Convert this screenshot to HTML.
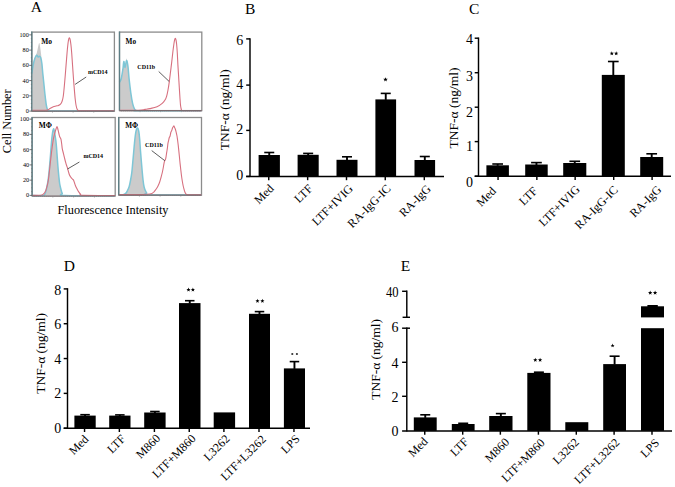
<!DOCTYPE html>
<html><head><meta charset="utf-8"><title>Figure</title>
<style>
html,body{margin:0;padding:0;background:#fff;}
body{width:675px;height:487px;overflow:hidden;}
svg{display:block;}
text{font-family:"Liberation Serif",serif;fill:#000;}
</style></head><body>
<svg width="675" height="487" viewBox="0 0 675 487">
<rect width="675" height="487" fill="#fff"/>
<text x="30.70" y="12.00" font-size="15.5" text-anchor="start" >A</text>
<text x="244.90" y="14.40" font-size="15.5" text-anchor="start" >B</text>
<text x="468.90" y="14.40" font-size="15.5" text-anchor="start" >C</text>
<text x="63.80" y="270.50" font-size="15.5" text-anchor="start" >D</text>
<text x="400.70" y="270.50" font-size="15.5" text-anchor="start" >E</text>
<rect x="31.8" y="32.1" width="82.60000000000001" height="79.0" fill="#fff" stroke="#8c8c8c" stroke-width="1.3"/>
<path d="M31.80,72.00 C32.08,70.33 32.88,64.58 33.50,62.00 C34.12,59.42 34.92,58.17 35.50,56.50 C36.08,54.83 36.53,53.75 37.00,52.00 C37.47,50.25 37.92,47.50 38.30,46.00 C38.68,44.50 38.97,42.67 39.30,43.00 C39.63,43.33 39.93,45.50 40.30,48.00 C40.67,50.50 41.08,54.00 41.50,58.00 C41.92,62.00 42.38,67.33 42.80,72.00 C43.22,76.67 43.58,81.50 44.00,86.00 C44.42,90.50 44.92,95.58 45.30,99.00 C45.68,102.42 45.93,104.57 46.30,106.50 C46.67,108.43 47.30,109.92 47.50,110.60 L47.5,111.1 L31.8,111.1 Z" fill="#cbcbcb" stroke="none"/>
<path d="M31.80,73.60 C32.00,72.33 32.50,68.52 33.00,66.00 C33.50,63.48 34.18,60.28 34.80,58.50 C35.42,56.72 36.17,55.55 36.70,55.30 C37.23,55.05 37.57,56.83 38.00,57.00 C38.43,57.17 38.87,56.22 39.30,56.30 C39.73,56.38 40.18,56.38 40.60,57.50 C41.02,58.62 41.43,60.32 41.80,63.00 C42.17,65.68 42.47,70.27 42.80,73.60 C43.13,76.93 43.50,80.10 43.80,83.00 C44.10,85.90 44.32,88.33 44.60,91.00 C44.88,93.67 45.22,96.67 45.50,99.00 C45.78,101.33 46.02,103.37 46.30,105.00 C46.58,106.63 46.87,107.87 47.20,108.80 C47.53,109.73 47.83,110.23 48.30,110.60 C48.77,110.97 48.05,110.93 50.00,111.00 C51.95,111.07 49.33,111.00 60.00,111.00 C70.67,111.00 105.00,111.00 114.00,111.00 L114.0,111.1 L31.8,111.1 Z" fill="#cbcbcb" stroke="none"/>
<path d="M31.80,73.60 C32.00,72.33 32.50,68.52 33.00,66.00 C33.50,63.48 34.18,60.28 34.80,58.50 C35.42,56.72 36.17,55.55 36.70,55.30 C37.23,55.05 37.57,56.83 38.00,57.00 C38.43,57.17 38.87,56.22 39.30,56.30 C39.73,56.38 40.18,56.38 40.60,57.50 C41.02,58.62 41.43,60.32 41.80,63.00 C42.17,65.68 42.47,70.27 42.80,73.60 C43.13,76.93 43.50,80.10 43.80,83.00 C44.10,85.90 44.32,88.33 44.60,91.00 C44.88,93.67 45.22,96.67 45.50,99.00 C45.78,101.33 46.02,103.37 46.30,105.00 C46.58,106.63 46.87,107.87 47.20,108.80 C47.53,109.73 47.83,110.23 48.30,110.60 C48.77,110.97 48.05,110.93 50.00,111.00 C51.95,111.07 49.33,111.00 60.00,111.00 C70.67,111.00 105.00,111.00 114.00,111.00" fill="none" stroke="#7ec6d6" stroke-width="1.5" stroke-linejoin="round"/>
<path d="M31.80,110.30 C33.17,110.30 37.43,110.33 40.00,110.30 C42.57,110.27 45.53,110.40 47.20,110.10 C48.87,109.80 48.98,109.07 50.00,108.50 C51.02,107.93 52.30,107.12 53.30,106.70 C54.30,106.28 55.13,106.22 56.00,106.00 C56.87,105.78 57.75,105.70 58.50,105.40 C59.25,105.10 59.92,104.85 60.50,104.20 C61.08,103.55 61.53,102.87 62.00,101.50 C62.47,100.13 62.87,99.08 63.30,96.00 C63.73,92.92 64.22,87.17 64.60,83.00 C64.98,78.83 65.27,75.08 65.60,71.00 C65.93,66.92 66.27,62.50 66.60,58.50 C66.93,54.50 67.28,50.08 67.60,47.00 C67.92,43.92 68.22,41.53 68.50,40.00 C68.78,38.47 69.03,37.88 69.30,37.80 C69.57,37.72 69.83,38.38 70.10,39.50 C70.37,40.62 70.63,42.25 70.90,44.50 C71.17,46.75 71.42,49.42 71.70,53.00 C71.98,56.58 72.30,61.67 72.60,66.00 C72.90,70.33 73.22,75.17 73.50,79.00 C73.78,82.83 74.02,85.67 74.30,89.00 C74.58,92.33 74.90,96.25 75.20,99.00 C75.50,101.75 75.77,103.78 76.10,105.50 C76.43,107.22 76.80,108.45 77.20,109.30 C77.60,110.15 77.37,110.35 78.50,110.60 C79.63,110.85 78.08,110.77 84.00,110.80 C89.92,110.83 109.00,110.80 114.00,110.80" fill="none" stroke="#d7707f" stroke-width="1.1" stroke-linejoin="round"/>
<line x1="31.80" y1="31.50" x2="31.80" y2="111.10" stroke="#5d7f86" stroke-width="1.3"/>
<line x1="31.80" y1="111.10" x2="114.40" y2="111.10" stroke="#7a6a6e" stroke-width="1.2"/>
<line x1="33.87" y1="111.10" x2="33.87" y2="112.00" stroke="#777" stroke-width="0.5"/>
<line x1="35.93" y1="111.10" x2="35.93" y2="112.00" stroke="#777" stroke-width="0.5"/>
<line x1="38.00" y1="111.10" x2="38.00" y2="112.00" stroke="#777" stroke-width="0.5"/>
<line x1="40.06" y1="111.10" x2="40.06" y2="112.00" stroke="#777" stroke-width="0.5"/>
<line x1="42.12" y1="111.10" x2="42.12" y2="112.00" stroke="#777" stroke-width="0.5"/>
<line x1="44.19" y1="111.10" x2="44.19" y2="112.00" stroke="#777" stroke-width="0.5"/>
<line x1="46.26" y1="111.10" x2="46.26" y2="112.00" stroke="#777" stroke-width="0.5"/>
<line x1="48.32" y1="111.10" x2="48.32" y2="112.00" stroke="#777" stroke-width="0.5"/>
<line x1="50.39" y1="111.10" x2="50.39" y2="112.00" stroke="#777" stroke-width="0.5"/>
<line x1="52.45" y1="111.10" x2="52.45" y2="112.70" stroke="#777" stroke-width="0.5"/>
<line x1="54.52" y1="111.10" x2="54.52" y2="112.00" stroke="#777" stroke-width="0.5"/>
<line x1="56.58" y1="111.10" x2="56.58" y2="112.00" stroke="#777" stroke-width="0.5"/>
<line x1="58.65" y1="111.10" x2="58.65" y2="112.00" stroke="#777" stroke-width="0.5"/>
<line x1="60.71" y1="111.10" x2="60.71" y2="112.00" stroke="#777" stroke-width="0.5"/>
<line x1="62.78" y1="111.10" x2="62.78" y2="112.00" stroke="#777" stroke-width="0.5"/>
<line x1="64.84" y1="111.10" x2="64.84" y2="112.00" stroke="#777" stroke-width="0.5"/>
<line x1="66.91" y1="111.10" x2="66.91" y2="112.00" stroke="#777" stroke-width="0.5"/>
<line x1="68.97" y1="111.10" x2="68.97" y2="112.00" stroke="#777" stroke-width="0.5"/>
<line x1="71.03" y1="111.10" x2="71.03" y2="112.00" stroke="#777" stroke-width="0.5"/>
<line x1="73.10" y1="111.10" x2="73.10" y2="112.70" stroke="#777" stroke-width="0.5"/>
<line x1="75.17" y1="111.10" x2="75.17" y2="112.00" stroke="#777" stroke-width="0.5"/>
<line x1="77.23" y1="111.10" x2="77.23" y2="112.00" stroke="#777" stroke-width="0.5"/>
<line x1="79.30" y1="111.10" x2="79.30" y2="112.00" stroke="#777" stroke-width="0.5"/>
<line x1="81.36" y1="111.10" x2="81.36" y2="112.00" stroke="#777" stroke-width="0.5"/>
<line x1="83.42" y1="111.10" x2="83.42" y2="112.00" stroke="#777" stroke-width="0.5"/>
<line x1="85.49" y1="111.10" x2="85.49" y2="112.00" stroke="#777" stroke-width="0.5"/>
<line x1="87.56" y1="111.10" x2="87.56" y2="112.00" stroke="#777" stroke-width="0.5"/>
<line x1="89.62" y1="111.10" x2="89.62" y2="112.00" stroke="#777" stroke-width="0.5"/>
<line x1="91.69" y1="111.10" x2="91.69" y2="112.00" stroke="#777" stroke-width="0.5"/>
<line x1="93.75" y1="111.10" x2="93.75" y2="112.70" stroke="#777" stroke-width="0.5"/>
<line x1="95.82" y1="111.10" x2="95.82" y2="112.00" stroke="#777" stroke-width="0.5"/>
<line x1="97.88" y1="111.10" x2="97.88" y2="112.00" stroke="#777" stroke-width="0.5"/>
<line x1="99.95" y1="111.10" x2="99.95" y2="112.00" stroke="#777" stroke-width="0.5"/>
<line x1="102.01" y1="111.10" x2="102.01" y2="112.00" stroke="#777" stroke-width="0.5"/>
<line x1="104.08" y1="111.10" x2="104.08" y2="112.00" stroke="#777" stroke-width="0.5"/>
<line x1="106.14" y1="111.10" x2="106.14" y2="112.00" stroke="#777" stroke-width="0.5"/>
<line x1="108.20" y1="111.10" x2="108.20" y2="112.00" stroke="#777" stroke-width="0.5"/>
<line x1="110.27" y1="111.10" x2="110.27" y2="112.00" stroke="#777" stroke-width="0.5"/>
<line x1="112.34" y1="111.10" x2="112.34" y2="112.00" stroke="#777" stroke-width="0.5"/>
<line x1="29.20" y1="111.10" x2="31.80" y2="111.10" stroke="#555" stroke-width="0.8"/>
<text x="28.80" y="113.10" font-size="6.2" text-anchor="end" fill="#444">0</text>
<line x1="29.20" y1="95.85" x2="31.80" y2="95.85" stroke="#555" stroke-width="0.8"/>
<text x="28.80" y="97.85" font-size="6.2" text-anchor="end" fill="#444">20</text>
<line x1="29.20" y1="80.60" x2="31.80" y2="80.60" stroke="#555" stroke-width="0.8"/>
<text x="28.80" y="82.60" font-size="6.2" text-anchor="end" fill="#444">40</text>
<line x1="29.20" y1="65.35" x2="31.80" y2="65.35" stroke="#555" stroke-width="0.8"/>
<text x="28.80" y="67.35" font-size="6.2" text-anchor="end" fill="#444">60</text>
<line x1="29.20" y1="50.10" x2="31.80" y2="50.10" stroke="#555" stroke-width="0.8"/>
<text x="28.80" y="52.10" font-size="6.2" text-anchor="end" fill="#444">80</text>
<line x1="29.20" y1="34.85" x2="31.80" y2="34.85" stroke="#555" stroke-width="0.8"/>
<text x="28.80" y="36.85" font-size="6.2" text-anchor="end" fill="#444">100</text>
<line x1="30.80" y1="107.29" x2="31.80" y2="107.29" stroke="#666" stroke-width="0.5"/>
<line x1="30.80" y1="103.47" x2="31.80" y2="103.47" stroke="#666" stroke-width="0.5"/>
<line x1="30.80" y1="99.66" x2="31.80" y2="99.66" stroke="#666" stroke-width="0.5"/>
<line x1="30.80" y1="92.04" x2="31.80" y2="92.04" stroke="#666" stroke-width="0.5"/>
<line x1="30.80" y1="88.22" x2="31.80" y2="88.22" stroke="#666" stroke-width="0.5"/>
<line x1="30.80" y1="84.41" x2="31.80" y2="84.41" stroke="#666" stroke-width="0.5"/>
<line x1="30.80" y1="76.79" x2="31.80" y2="76.79" stroke="#666" stroke-width="0.5"/>
<line x1="30.80" y1="72.97" x2="31.80" y2="72.97" stroke="#666" stroke-width="0.5"/>
<line x1="30.80" y1="69.16" x2="31.80" y2="69.16" stroke="#666" stroke-width="0.5"/>
<line x1="30.80" y1="61.54" x2="31.80" y2="61.54" stroke="#666" stroke-width="0.5"/>
<line x1="30.80" y1="57.72" x2="31.80" y2="57.72" stroke="#666" stroke-width="0.5"/>
<line x1="30.80" y1="53.91" x2="31.80" y2="53.91" stroke="#666" stroke-width="0.5"/>
<line x1="30.80" y1="46.29" x2="31.80" y2="46.29" stroke="#666" stroke-width="0.5"/>
<line x1="30.80" y1="42.47" x2="31.80" y2="42.47" stroke="#666" stroke-width="0.5"/>
<line x1="30.80" y1="38.66" x2="31.80" y2="38.66" stroke="#666" stroke-width="0.5"/>
<text x="41.20" y="43.80" font-size="8.4" text-anchor="start" textLength="10.8" lengthAdjust="spacingAndGlyphs" font-weight="bold">Mo</text>
<text x="87.90" y="73.90" font-size="6.0" text-anchor="start" font-weight="bold">mCD14</text>
<line x1="86.20" y1="77.00" x2="75.10" y2="84.40" stroke="#333" stroke-width="0.8"/>
<rect x="119.5" y="32.1" width="82.30000000000001" height="78.5" fill="#fff" stroke="#8c8c8c" stroke-width="1.3"/>
<path d="M119.50,82.30 C119.78,81.72 120.62,81.12 121.20,78.80 C121.78,76.48 122.57,71.30 123.00,68.40 C123.43,65.50 123.45,61.63 123.80,61.40 C124.15,61.17 124.68,67.23 125.10,67.00 C125.52,66.77 126.03,61.42 126.30,60.00 C126.57,58.58 126.55,58.33 126.70,58.50 C126.85,58.67 127.00,59.78 127.20,61.00 C127.40,62.22 127.58,62.83 127.90,65.80 C128.22,68.77 128.62,74.30 129.10,78.80 C129.58,83.30 130.22,88.72 130.80,92.80 C131.38,96.88 132.02,100.68 132.60,103.30 C133.18,105.92 133.82,107.32 134.30,108.50 C134.78,109.68 135.30,110.08 135.50,110.40 L135.5,110.6 L119.5,110.6 Z" fill="#cbcbcb" stroke="none"/>
<path d="M119.50,82.30 C119.78,81.72 120.62,81.12 121.20,78.80 C121.78,76.48 122.57,71.30 123.00,68.40 C123.43,65.50 123.45,61.55 123.80,61.40 C124.15,61.25 124.65,67.65 125.10,67.50 C125.55,67.35 126.03,60.78 126.50,60.50 C126.97,60.22 127.47,62.75 127.90,65.80 C128.33,68.85 128.62,74.30 129.10,78.80 C129.58,83.30 130.22,88.72 130.80,92.80 C131.38,96.88 132.02,100.68 132.60,103.30 C133.18,105.92 133.77,107.33 134.30,108.50 C134.83,109.67 134.85,109.93 135.80,110.30 C136.75,110.67 129.05,110.63 140.00,110.70 C150.95,110.77 191.25,110.70 201.50,110.70 L201.5,110.6 L119.5,110.6 Z" fill="#cbcbcb" stroke="none"/>
<path d="M119.50,82.30 C119.78,81.72 120.62,81.12 121.20,78.80 C121.78,76.48 122.57,71.30 123.00,68.40 C123.43,65.50 123.45,61.55 123.80,61.40 C124.15,61.25 124.65,67.65 125.10,67.50 C125.55,67.35 126.03,60.78 126.50,60.50 C126.97,60.22 127.47,62.75 127.90,65.80 C128.33,68.85 128.62,74.30 129.10,78.80 C129.58,83.30 130.22,88.72 130.80,92.80 C131.38,96.88 132.02,100.68 132.60,103.30 C133.18,105.92 133.77,107.33 134.30,108.50 C134.83,109.67 134.85,109.93 135.80,110.30 C136.75,110.67 129.05,110.63 140.00,110.70 C150.95,110.77 191.25,110.70 201.50,110.70" fill="none" stroke="#7ec6d6" stroke-width="1.5" stroke-linejoin="round"/>
<path d="M119.50,110.20 C122.70,110.20 134.45,110.33 138.70,110.20 C142.95,110.07 143.12,109.67 145.00,109.40 C146.88,109.13 148.00,109.05 150.00,108.60 C152.00,108.15 154.97,107.58 157.00,106.70 C159.03,105.82 160.87,104.42 162.20,103.30 C163.53,102.18 164.27,101.17 165.00,100.00 C165.73,98.83 166.10,97.97 166.60,96.30 C167.10,94.63 167.57,92.33 168.00,90.00 C168.43,87.67 168.78,85.30 169.20,82.30 C169.62,79.30 170.07,75.48 170.50,72.00 C170.93,68.52 171.40,64.82 171.80,61.40 C172.20,57.98 172.55,54.40 172.90,51.50 C173.25,48.60 173.62,45.95 173.90,44.00 C174.18,42.05 174.37,40.73 174.60,39.80 C174.83,38.87 175.07,38.37 175.30,38.40 C175.53,38.43 175.78,39.07 176.00,40.00 C176.22,40.93 176.38,41.83 176.60,44.00 C176.82,46.17 177.08,49.52 177.30,53.00 C177.52,56.48 177.68,61.07 177.90,64.90 C178.12,68.73 178.37,72.22 178.60,76.00 C178.83,79.78 179.08,84.10 179.30,87.60 C179.52,91.10 179.70,94.10 179.90,97.00 C180.10,99.90 180.28,103.00 180.50,105.00 C180.72,107.00 180.95,108.10 181.20,109.00 C181.45,109.90 181.20,110.13 182.00,110.40 C182.80,110.67 182.75,110.57 186.00,110.60 C189.25,110.63 198.92,110.60 201.50,110.60" fill="none" stroke="#d7707f" stroke-width="1.1" stroke-linejoin="round"/>
<line x1="119.50" y1="31.50" x2="119.50" y2="110.60" stroke="#5d7f86" stroke-width="1.3"/>
<line x1="119.50" y1="110.60" x2="201.80" y2="110.60" stroke="#7a6a6e" stroke-width="1.2"/>
<line x1="121.56" y1="110.60" x2="121.56" y2="111.50" stroke="#777" stroke-width="0.5"/>
<line x1="123.61" y1="110.60" x2="123.61" y2="111.50" stroke="#777" stroke-width="0.5"/>
<line x1="125.67" y1="110.60" x2="125.67" y2="111.50" stroke="#777" stroke-width="0.5"/>
<line x1="127.73" y1="110.60" x2="127.73" y2="111.50" stroke="#777" stroke-width="0.5"/>
<line x1="129.79" y1="110.60" x2="129.79" y2="111.50" stroke="#777" stroke-width="0.5"/>
<line x1="131.84" y1="110.60" x2="131.84" y2="111.50" stroke="#777" stroke-width="0.5"/>
<line x1="133.90" y1="110.60" x2="133.90" y2="111.50" stroke="#777" stroke-width="0.5"/>
<line x1="135.96" y1="110.60" x2="135.96" y2="111.50" stroke="#777" stroke-width="0.5"/>
<line x1="138.02" y1="110.60" x2="138.02" y2="111.50" stroke="#777" stroke-width="0.5"/>
<line x1="140.07" y1="110.60" x2="140.07" y2="112.20" stroke="#777" stroke-width="0.5"/>
<line x1="142.13" y1="110.60" x2="142.13" y2="111.50" stroke="#777" stroke-width="0.5"/>
<line x1="144.19" y1="110.60" x2="144.19" y2="111.50" stroke="#777" stroke-width="0.5"/>
<line x1="146.25" y1="110.60" x2="146.25" y2="111.50" stroke="#777" stroke-width="0.5"/>
<line x1="148.31" y1="110.60" x2="148.31" y2="111.50" stroke="#777" stroke-width="0.5"/>
<line x1="150.36" y1="110.60" x2="150.36" y2="111.50" stroke="#777" stroke-width="0.5"/>
<line x1="152.42" y1="110.60" x2="152.42" y2="111.50" stroke="#777" stroke-width="0.5"/>
<line x1="154.48" y1="110.60" x2="154.48" y2="111.50" stroke="#777" stroke-width="0.5"/>
<line x1="156.53" y1="110.60" x2="156.53" y2="111.50" stroke="#777" stroke-width="0.5"/>
<line x1="158.59" y1="110.60" x2="158.59" y2="111.50" stroke="#777" stroke-width="0.5"/>
<line x1="160.65" y1="110.60" x2="160.65" y2="112.20" stroke="#777" stroke-width="0.5"/>
<line x1="162.71" y1="110.60" x2="162.71" y2="111.50" stroke="#777" stroke-width="0.5"/>
<line x1="164.77" y1="110.60" x2="164.77" y2="111.50" stroke="#777" stroke-width="0.5"/>
<line x1="166.82" y1="110.60" x2="166.82" y2="111.50" stroke="#777" stroke-width="0.5"/>
<line x1="168.88" y1="110.60" x2="168.88" y2="111.50" stroke="#777" stroke-width="0.5"/>
<line x1="170.94" y1="110.60" x2="170.94" y2="111.50" stroke="#777" stroke-width="0.5"/>
<line x1="173.00" y1="110.60" x2="173.00" y2="111.50" stroke="#777" stroke-width="0.5"/>
<line x1="175.05" y1="110.60" x2="175.05" y2="111.50" stroke="#777" stroke-width="0.5"/>
<line x1="177.11" y1="110.60" x2="177.11" y2="111.50" stroke="#777" stroke-width="0.5"/>
<line x1="179.17" y1="110.60" x2="179.17" y2="111.50" stroke="#777" stroke-width="0.5"/>
<line x1="181.23" y1="110.60" x2="181.23" y2="112.20" stroke="#777" stroke-width="0.5"/>
<line x1="183.28" y1="110.60" x2="183.28" y2="111.50" stroke="#777" stroke-width="0.5"/>
<line x1="185.34" y1="110.60" x2="185.34" y2="111.50" stroke="#777" stroke-width="0.5"/>
<line x1="187.40" y1="110.60" x2="187.40" y2="111.50" stroke="#777" stroke-width="0.5"/>
<line x1="189.46" y1="110.60" x2="189.46" y2="111.50" stroke="#777" stroke-width="0.5"/>
<line x1="191.51" y1="110.60" x2="191.51" y2="111.50" stroke="#777" stroke-width="0.5"/>
<line x1="193.57" y1="110.60" x2="193.57" y2="111.50" stroke="#777" stroke-width="0.5"/>
<line x1="195.63" y1="110.60" x2="195.63" y2="111.50" stroke="#777" stroke-width="0.5"/>
<line x1="197.69" y1="110.60" x2="197.69" y2="111.50" stroke="#777" stroke-width="0.5"/>
<line x1="199.74" y1="110.60" x2="199.74" y2="111.50" stroke="#777" stroke-width="0.5"/>
<text x="125.60" y="43.90" font-size="8.4" text-anchor="start" textLength="10.5" lengthAdjust="spacingAndGlyphs" font-weight="bold">Mo</text>
<text x="137.30" y="69.20" font-size="6.0" text-anchor="start" font-weight="bold">CD11b</text>
<line x1="158.70" y1="71.50" x2="169.20" y2="81.50" stroke="#333" stroke-width="0.8"/>
<rect x="32.1" y="117.5" width="83.1" height="78.5" fill="#fff" stroke="#8c8c8c" stroke-width="1.3"/>
<path d="M44.80,195.30 C45.03,194.42 45.77,191.92 46.20,190.00 C46.63,188.08 47.02,186.13 47.40,183.80 C47.78,181.47 48.15,178.92 48.50,176.00 C48.85,173.08 49.18,169.80 49.50,166.30 C49.82,162.80 50.10,158.77 50.40,155.00 C50.70,151.23 50.98,147.12 51.30,143.70 C51.62,140.28 51.98,136.83 52.30,134.50 C52.62,132.17 52.92,129.95 53.20,129.70 C53.48,129.45 53.72,131.25 54.00,133.00 C54.28,134.75 54.63,137.70 54.90,140.20 C55.17,142.70 55.38,145.10 55.60,148.00 C55.82,150.90 55.98,154.10 56.20,157.60 C56.42,161.10 56.67,165.22 56.90,169.00 C57.13,172.78 57.35,177.38 57.60,180.30 C57.85,183.22 58.12,184.77 58.40,186.50 C58.68,188.23 58.98,189.53 59.30,190.70 C59.62,191.87 59.95,192.73 60.30,193.50 C60.65,194.27 61.22,195.00 61.40,195.30 L61.4,196.0 L44.8,196.0 Z" fill="#cbcbcb" stroke="none"/>
<path d="M32.10,195.60 C33.75,195.60 39.93,195.73 42.00,195.60 C44.07,195.47 43.83,195.57 44.50,194.80 C45.17,194.03 45.52,192.72 46.00,191.00 C46.48,189.28 46.98,186.83 47.40,184.50 C47.82,182.17 48.15,179.92 48.50,177.00 C48.85,174.08 49.17,170.67 49.50,167.00 C49.83,163.33 50.17,159.17 50.50,155.00 C50.83,150.83 51.17,145.67 51.50,142.00 C51.83,138.33 52.17,135.20 52.50,133.00 C52.83,130.80 53.17,128.97 53.50,128.80 C53.83,128.63 54.20,130.63 54.50,132.00 C54.80,133.37 55.02,135.05 55.30,137.00 C55.58,138.95 55.92,140.87 56.20,143.70 C56.48,146.53 56.72,150.23 57.00,154.00 C57.28,157.77 57.60,162.63 57.90,166.30 C58.20,169.97 58.50,173.08 58.80,176.00 C59.10,178.92 59.33,181.55 59.70,183.80 C60.07,186.05 60.57,187.90 61.00,189.50 C61.43,191.10 61.65,192.38 62.30,193.40 C62.95,194.42 56.12,195.22 64.90,195.60 C73.68,195.98 106.65,195.68 115.00,195.70 L115.0,196.0 L32.1,196.0 Z" fill="#cbcbcb" stroke="none"/>
<path d="M32.10,195.60 C33.75,195.60 39.93,195.73 42.00,195.60 C44.07,195.47 43.83,195.57 44.50,194.80 C45.17,194.03 45.52,192.72 46.00,191.00 C46.48,189.28 46.98,186.83 47.40,184.50 C47.82,182.17 48.15,179.92 48.50,177.00 C48.85,174.08 49.17,170.67 49.50,167.00 C49.83,163.33 50.17,159.17 50.50,155.00 C50.83,150.83 51.17,145.67 51.50,142.00 C51.83,138.33 52.17,135.20 52.50,133.00 C52.83,130.80 53.17,128.97 53.50,128.80 C53.83,128.63 54.20,130.63 54.50,132.00 C54.80,133.37 55.02,135.05 55.30,137.00 C55.58,138.95 55.92,140.87 56.20,143.70 C56.48,146.53 56.72,150.23 57.00,154.00 C57.28,157.77 57.60,162.63 57.90,166.30 C58.20,169.97 58.50,173.08 58.80,176.00 C59.10,178.92 59.33,181.55 59.70,183.80 C60.07,186.05 60.57,187.90 61.00,189.50 C61.43,191.10 61.65,192.38 62.30,193.40 C62.95,194.42 56.12,195.22 64.90,195.60 C73.68,195.98 106.65,195.68 115.00,195.70" fill="none" stroke="#7ec6d6" stroke-width="1.5" stroke-linejoin="round"/>
<path d="M32.10,195.40 C33.50,195.38 38.60,195.53 40.50,195.30 C42.40,195.07 42.63,194.77 43.50,194.00 C44.37,193.23 45.12,191.95 45.70,190.70 C46.28,189.45 46.57,188.23 47.00,186.50 C47.43,184.77 47.87,183.13 48.30,180.30 C48.73,177.47 49.17,173.28 49.60,169.50 C50.03,165.72 50.47,161.35 50.90,157.60 C51.33,153.85 51.77,150.20 52.20,147.00 C52.63,143.80 53.12,140.57 53.50,138.40 C53.88,136.23 54.20,135.17 54.50,134.00 C54.80,132.83 55.02,132.32 55.30,131.40 C55.58,130.48 55.92,129.30 56.20,128.50 C56.48,127.70 56.75,126.60 57.00,126.60 C57.25,126.60 57.47,127.70 57.70,128.50 C57.93,129.30 58.17,130.40 58.40,131.40 C58.63,132.40 58.88,133.62 59.10,134.50 C59.32,135.38 59.48,136.12 59.70,136.70 C59.92,137.28 60.18,137.57 60.40,138.00 C60.62,138.43 60.78,138.30 61.00,139.30 C61.22,140.30 61.48,142.40 61.70,144.00 C61.92,145.60 62.05,147.48 62.30,148.90 C62.55,150.32 62.92,151.33 63.20,152.50 C63.48,153.67 63.72,154.73 64.00,155.90 C64.28,157.07 64.60,158.35 64.90,159.50 C65.20,160.65 65.52,161.80 65.80,162.80 C66.08,163.80 66.32,164.62 66.60,165.50 C66.88,166.38 67.20,167.10 67.50,168.10 C67.80,169.10 68.12,170.48 68.40,171.50 C68.68,172.52 68.85,173.32 69.20,174.20 C69.55,175.08 70.05,176.08 70.50,176.80 C70.95,177.52 71.52,178.08 71.90,178.50 C72.28,178.92 72.52,179.00 72.80,179.30 C73.08,179.60 73.32,179.72 73.60,180.30 C73.88,180.88 74.20,181.93 74.50,182.80 C74.80,183.67 75.03,184.58 75.40,185.50 C75.77,186.42 76.27,187.43 76.70,188.30 C77.13,189.17 77.57,189.97 78.00,190.70 C78.43,191.43 78.87,192.12 79.30,192.70 C79.73,193.28 79.95,193.75 80.60,194.20 C81.25,194.65 77.47,195.18 83.20,195.40 C88.93,195.62 109.70,195.48 115.00,195.50" fill="none" stroke="#d7707f" stroke-width="1.1" stroke-linejoin="round"/>
<line x1="32.10" y1="116.90" x2="32.10" y2="196.00" stroke="#5d7f86" stroke-width="1.3"/>
<line x1="32.10" y1="196.00" x2="115.20" y2="196.00" stroke="#7a6a6e" stroke-width="1.2"/>
<line x1="34.18" y1="196.00" x2="34.18" y2="196.90" stroke="#777" stroke-width="0.5"/>
<line x1="36.26" y1="196.00" x2="36.26" y2="196.90" stroke="#777" stroke-width="0.5"/>
<line x1="38.33" y1="196.00" x2="38.33" y2="196.90" stroke="#777" stroke-width="0.5"/>
<line x1="40.41" y1="196.00" x2="40.41" y2="196.90" stroke="#777" stroke-width="0.5"/>
<line x1="42.49" y1="196.00" x2="42.49" y2="196.90" stroke="#777" stroke-width="0.5"/>
<line x1="44.56" y1="196.00" x2="44.56" y2="196.90" stroke="#777" stroke-width="0.5"/>
<line x1="46.64" y1="196.00" x2="46.64" y2="196.90" stroke="#777" stroke-width="0.5"/>
<line x1="48.72" y1="196.00" x2="48.72" y2="196.90" stroke="#777" stroke-width="0.5"/>
<line x1="50.80" y1="196.00" x2="50.80" y2="196.90" stroke="#777" stroke-width="0.5"/>
<line x1="52.88" y1="196.00" x2="52.88" y2="197.60" stroke="#777" stroke-width="0.5"/>
<line x1="54.95" y1="196.00" x2="54.95" y2="196.90" stroke="#777" stroke-width="0.5"/>
<line x1="57.03" y1="196.00" x2="57.03" y2="196.90" stroke="#777" stroke-width="0.5"/>
<line x1="59.11" y1="196.00" x2="59.11" y2="196.90" stroke="#777" stroke-width="0.5"/>
<line x1="61.19" y1="196.00" x2="61.19" y2="196.90" stroke="#777" stroke-width="0.5"/>
<line x1="63.26" y1="196.00" x2="63.26" y2="196.90" stroke="#777" stroke-width="0.5"/>
<line x1="65.34" y1="196.00" x2="65.34" y2="196.90" stroke="#777" stroke-width="0.5"/>
<line x1="67.42" y1="196.00" x2="67.42" y2="196.90" stroke="#777" stroke-width="0.5"/>
<line x1="69.50" y1="196.00" x2="69.50" y2="196.90" stroke="#777" stroke-width="0.5"/>
<line x1="71.57" y1="196.00" x2="71.57" y2="196.90" stroke="#777" stroke-width="0.5"/>
<line x1="73.65" y1="196.00" x2="73.65" y2="197.60" stroke="#777" stroke-width="0.5"/>
<line x1="75.73" y1="196.00" x2="75.73" y2="196.90" stroke="#777" stroke-width="0.5"/>
<line x1="77.81" y1="196.00" x2="77.81" y2="196.90" stroke="#777" stroke-width="0.5"/>
<line x1="79.88" y1="196.00" x2="79.88" y2="196.90" stroke="#777" stroke-width="0.5"/>
<line x1="81.96" y1="196.00" x2="81.96" y2="196.90" stroke="#777" stroke-width="0.5"/>
<line x1="84.04" y1="196.00" x2="84.04" y2="196.90" stroke="#777" stroke-width="0.5"/>
<line x1="86.12" y1="196.00" x2="86.12" y2="196.90" stroke="#777" stroke-width="0.5"/>
<line x1="88.19" y1="196.00" x2="88.19" y2="196.90" stroke="#777" stroke-width="0.5"/>
<line x1="90.27" y1="196.00" x2="90.27" y2="196.90" stroke="#777" stroke-width="0.5"/>
<line x1="92.35" y1="196.00" x2="92.35" y2="196.90" stroke="#777" stroke-width="0.5"/>
<line x1="94.43" y1="196.00" x2="94.43" y2="197.60" stroke="#777" stroke-width="0.5"/>
<line x1="96.50" y1="196.00" x2="96.50" y2="196.90" stroke="#777" stroke-width="0.5"/>
<line x1="98.58" y1="196.00" x2="98.58" y2="196.90" stroke="#777" stroke-width="0.5"/>
<line x1="100.66" y1="196.00" x2="100.66" y2="196.90" stroke="#777" stroke-width="0.5"/>
<line x1="102.73" y1="196.00" x2="102.73" y2="196.90" stroke="#777" stroke-width="0.5"/>
<line x1="104.81" y1="196.00" x2="104.81" y2="196.90" stroke="#777" stroke-width="0.5"/>
<line x1="106.89" y1="196.00" x2="106.89" y2="196.90" stroke="#777" stroke-width="0.5"/>
<line x1="108.97" y1="196.00" x2="108.97" y2="196.90" stroke="#777" stroke-width="0.5"/>
<line x1="111.04" y1="196.00" x2="111.04" y2="196.90" stroke="#777" stroke-width="0.5"/>
<line x1="113.12" y1="196.00" x2="113.12" y2="196.90" stroke="#777" stroke-width="0.5"/>
<line x1="29.50" y1="195.40" x2="32.10" y2="195.40" stroke="#555" stroke-width="0.8"/>
<text x="29.10" y="197.40" font-size="6.2" text-anchor="end" fill="#444">0</text>
<line x1="29.50" y1="180.15" x2="32.10" y2="180.15" stroke="#555" stroke-width="0.8"/>
<text x="29.10" y="182.15" font-size="6.2" text-anchor="end" fill="#444">20</text>
<line x1="29.50" y1="164.90" x2="32.10" y2="164.90" stroke="#555" stroke-width="0.8"/>
<text x="29.10" y="166.90" font-size="6.2" text-anchor="end" fill="#444">40</text>
<line x1="29.50" y1="149.65" x2="32.10" y2="149.65" stroke="#555" stroke-width="0.8"/>
<text x="29.10" y="151.65" font-size="6.2" text-anchor="end" fill="#444">60</text>
<line x1="29.50" y1="134.40" x2="32.10" y2="134.40" stroke="#555" stroke-width="0.8"/>
<text x="29.10" y="136.40" font-size="6.2" text-anchor="end" fill="#444">80</text>
<line x1="29.50" y1="119.15" x2="32.10" y2="119.15" stroke="#555" stroke-width="0.8"/>
<text x="29.10" y="121.15" font-size="6.2" text-anchor="end" fill="#444">100</text>
<line x1="31.10" y1="191.59" x2="32.10" y2="191.59" stroke="#666" stroke-width="0.5"/>
<line x1="31.10" y1="187.78" x2="32.10" y2="187.78" stroke="#666" stroke-width="0.5"/>
<line x1="31.10" y1="183.96" x2="32.10" y2="183.96" stroke="#666" stroke-width="0.5"/>
<line x1="31.10" y1="176.34" x2="32.10" y2="176.34" stroke="#666" stroke-width="0.5"/>
<line x1="31.10" y1="172.53" x2="32.10" y2="172.53" stroke="#666" stroke-width="0.5"/>
<line x1="31.10" y1="168.71" x2="32.10" y2="168.71" stroke="#666" stroke-width="0.5"/>
<line x1="31.10" y1="161.09" x2="32.10" y2="161.09" stroke="#666" stroke-width="0.5"/>
<line x1="31.10" y1="157.28" x2="32.10" y2="157.28" stroke="#666" stroke-width="0.5"/>
<line x1="31.10" y1="153.46" x2="32.10" y2="153.46" stroke="#666" stroke-width="0.5"/>
<line x1="31.10" y1="145.84" x2="32.10" y2="145.84" stroke="#666" stroke-width="0.5"/>
<line x1="31.10" y1="142.03" x2="32.10" y2="142.03" stroke="#666" stroke-width="0.5"/>
<line x1="31.10" y1="138.21" x2="32.10" y2="138.21" stroke="#666" stroke-width="0.5"/>
<line x1="31.10" y1="130.59" x2="32.10" y2="130.59" stroke="#666" stroke-width="0.5"/>
<line x1="31.10" y1="126.78" x2="32.10" y2="126.78" stroke="#666" stroke-width="0.5"/>
<line x1="31.10" y1="122.96" x2="32.10" y2="122.96" stroke="#666" stroke-width="0.5"/>
<text x="38.70" y="127.80" font-size="8.4" text-anchor="start" textLength="13.1" lengthAdjust="spacingAndGlyphs" font-weight="bold">M&#934;</text>
<text x="83.40" y="158.20" font-size="6.0" text-anchor="start" font-weight="bold">mCD14</text>
<line x1="79.40" y1="162.00" x2="67.50" y2="169.00" stroke="#333" stroke-width="0.8"/>
<rect x="118.7" y="117.5" width="82.8" height="77.6" fill="#fff" stroke="#8c8c8c" stroke-width="1.3"/>
<path d="M125.70,194.60 C126.00,194.08 126.92,192.72 127.50,191.50 C128.08,190.28 128.70,189.05 129.20,187.30 C129.70,185.55 130.07,183.33 130.50,181.00 C130.93,178.67 131.43,176.13 131.80,173.30 C132.17,170.47 132.40,167.20 132.70,164.00 C133.00,160.80 133.32,157.27 133.60,154.10 C133.88,150.93 134.12,147.90 134.40,145.00 C134.68,142.10 135.00,138.95 135.30,136.70 C135.60,134.45 135.90,132.82 136.20,131.50 C136.50,130.18 136.80,129.05 137.10,128.80 C137.40,128.55 137.72,129.27 138.00,130.00 C138.28,130.73 138.52,131.37 138.80,133.20 C139.08,135.03 139.42,137.80 139.70,141.00 C139.98,144.20 140.22,148.73 140.50,152.40 C140.78,156.07 141.10,159.52 141.40,163.00 C141.70,166.48 142.02,170.30 142.30,173.30 C142.58,176.30 142.82,178.67 143.10,181.00 C143.38,183.33 143.63,185.63 144.00,187.30 C144.37,188.97 144.85,189.98 145.30,191.00 C145.75,192.02 146.20,192.77 146.70,193.40 C147.20,194.03 148.03,194.57 148.30,194.80 L148.3,195.1 L125.7,195.1 Z" fill="#cbcbcb" stroke="none"/>
<path d="M118.70,194.80 C119.42,194.80 121.83,195.03 123.00,194.80 C124.17,194.57 124.95,194.12 125.70,193.40 C126.45,192.68 126.92,191.65 127.50,190.50 C128.08,189.35 128.70,188.17 129.20,186.50 C129.70,184.83 130.07,182.83 130.50,180.50 C130.93,178.17 131.43,175.42 131.80,172.50 C132.17,169.58 132.40,166.25 132.70,163.00 C133.00,159.75 133.32,156.17 133.60,153.00 C133.88,149.83 134.12,146.92 134.40,144.00 C134.68,141.08 134.98,137.83 135.30,135.50 C135.62,133.17 135.92,131.25 136.30,130.00 C136.68,128.75 137.18,127.75 137.60,128.00 C138.02,128.25 138.45,129.58 138.80,131.50 C139.15,133.42 139.42,136.25 139.70,139.50 C139.98,142.75 140.22,147.25 140.50,151.00 C140.78,154.75 141.10,158.42 141.40,162.00 C141.70,165.58 142.02,169.42 142.30,172.50 C142.58,175.58 142.82,178.17 143.10,180.50 C143.38,182.83 143.63,184.83 144.00,186.50 C144.37,188.17 144.85,189.42 145.30,190.50 C145.75,191.58 146.03,192.27 146.70,193.00 C147.37,193.73 140.20,194.57 149.30,194.90 C158.40,195.23 192.63,194.98 201.30,195.00 L201.3,195.1 L118.7,195.1 Z" fill="#cbcbcb" stroke="none"/>
<path d="M118.70,194.80 C119.42,194.80 121.83,195.03 123.00,194.80 C124.17,194.57 124.95,194.12 125.70,193.40 C126.45,192.68 126.92,191.65 127.50,190.50 C128.08,189.35 128.70,188.17 129.20,186.50 C129.70,184.83 130.07,182.83 130.50,180.50 C130.93,178.17 131.43,175.42 131.80,172.50 C132.17,169.58 132.40,166.25 132.70,163.00 C133.00,159.75 133.32,156.17 133.60,153.00 C133.88,149.83 134.12,146.92 134.40,144.00 C134.68,141.08 134.98,137.83 135.30,135.50 C135.62,133.17 135.92,131.25 136.30,130.00 C136.68,128.75 137.18,127.75 137.60,128.00 C138.02,128.25 138.45,129.58 138.80,131.50 C139.15,133.42 139.42,136.25 139.70,139.50 C139.98,142.75 140.22,147.25 140.50,151.00 C140.78,154.75 141.10,158.42 141.40,162.00 C141.70,165.58 142.02,169.42 142.30,172.50 C142.58,175.58 142.82,178.17 143.10,180.50 C143.38,182.83 143.63,184.83 144.00,186.50 C144.37,188.17 144.85,189.42 145.30,190.50 C145.75,191.58 146.03,192.27 146.70,193.00 C147.37,193.73 140.20,194.57 149.30,194.90 C158.40,195.23 192.63,194.98 201.30,195.00" fill="none" stroke="#7ec6d6" stroke-width="1.5" stroke-linejoin="round"/>
<path d="M118.70,194.60 C121.90,194.60 133.23,194.67 137.90,194.60 C142.57,194.53 144.37,194.40 146.70,194.20 C149.03,194.00 150.68,193.80 151.90,193.40 C153.12,193.00 153.28,192.53 154.00,191.80 C154.72,191.07 155.53,189.97 156.20,189.00 C156.87,188.03 157.42,187.17 158.00,186.00 C158.58,184.83 159.20,183.42 159.70,182.00 C160.20,180.58 160.57,179.08 161.00,177.50 C161.43,175.92 161.92,174.17 162.30,172.50 C162.68,170.83 163.00,169.12 163.30,167.50 C163.60,165.88 163.85,163.97 164.10,162.80 C164.35,161.63 164.57,161.07 164.80,160.50 C165.03,159.93 165.28,160.07 165.50,159.40 C165.72,158.73 165.90,157.67 166.10,156.50 C166.30,155.33 166.48,153.82 166.70,152.40 C166.92,150.98 167.20,149.45 167.40,148.00 C167.60,146.55 167.70,144.95 167.90,143.70 C168.10,142.45 168.37,141.53 168.60,140.50 C168.83,139.47 169.05,138.25 169.30,137.50 C169.55,136.75 169.85,136.83 170.10,136.00 C170.35,135.17 170.52,133.43 170.80,132.50 C171.08,131.57 171.52,131.15 171.80,130.40 C172.08,129.65 172.27,128.60 172.50,128.00 C172.73,127.40 172.95,127.15 173.20,126.80 C173.45,126.45 173.77,125.78 174.00,125.90 C174.23,126.02 174.40,127.02 174.60,127.50 C174.80,127.98 174.93,128.00 175.20,128.80 C175.47,129.60 175.90,131.10 176.20,132.30 C176.50,133.50 176.77,134.68 177.00,136.00 C177.23,137.32 177.40,138.70 177.60,140.20 C177.80,141.70 178.00,143.27 178.20,145.00 C178.40,146.73 178.60,148.68 178.80,150.60 C179.00,152.52 179.20,154.47 179.40,156.50 C179.60,158.53 179.78,160.72 180.00,162.80 C180.22,164.88 180.47,166.97 180.70,169.00 C180.93,171.03 181.15,173.08 181.40,175.00 C181.65,176.92 181.92,178.75 182.20,180.50 C182.48,182.25 182.80,184.05 183.10,185.50 C183.40,186.95 183.70,188.10 184.00,189.20 C184.30,190.30 184.47,191.20 184.90,192.10 C185.33,193.00 185.75,194.13 186.60,194.60 C187.45,195.07 187.55,194.85 190.00,194.90 C192.45,194.95 199.42,194.90 201.30,194.90" fill="none" stroke="#d7707f" stroke-width="1.1" stroke-linejoin="round"/>
<line x1="118.70" y1="116.90" x2="118.70" y2="195.10" stroke="#5d7f86" stroke-width="1.3"/>
<line x1="118.70" y1="195.10" x2="201.50" y2="195.10" stroke="#7a6a6e" stroke-width="1.2"/>
<line x1="120.77" y1="195.10" x2="120.77" y2="196.00" stroke="#777" stroke-width="0.5"/>
<line x1="122.84" y1="195.10" x2="122.84" y2="196.00" stroke="#777" stroke-width="0.5"/>
<line x1="124.91" y1="195.10" x2="124.91" y2="196.00" stroke="#777" stroke-width="0.5"/>
<line x1="126.98" y1="195.10" x2="126.98" y2="196.00" stroke="#777" stroke-width="0.5"/>
<line x1="129.05" y1="195.10" x2="129.05" y2="196.00" stroke="#777" stroke-width="0.5"/>
<line x1="131.12" y1="195.10" x2="131.12" y2="196.00" stroke="#777" stroke-width="0.5"/>
<line x1="133.19" y1="195.10" x2="133.19" y2="196.00" stroke="#777" stroke-width="0.5"/>
<line x1="135.26" y1="195.10" x2="135.26" y2="196.00" stroke="#777" stroke-width="0.5"/>
<line x1="137.33" y1="195.10" x2="137.33" y2="196.00" stroke="#777" stroke-width="0.5"/>
<line x1="139.40" y1="195.10" x2="139.40" y2="196.70" stroke="#777" stroke-width="0.5"/>
<line x1="141.47" y1="195.10" x2="141.47" y2="196.00" stroke="#777" stroke-width="0.5"/>
<line x1="143.54" y1="195.10" x2="143.54" y2="196.00" stroke="#777" stroke-width="0.5"/>
<line x1="145.61" y1="195.10" x2="145.61" y2="196.00" stroke="#777" stroke-width="0.5"/>
<line x1="147.68" y1="195.10" x2="147.68" y2="196.00" stroke="#777" stroke-width="0.5"/>
<line x1="149.75" y1="195.10" x2="149.75" y2="196.00" stroke="#777" stroke-width="0.5"/>
<line x1="151.82" y1="195.10" x2="151.82" y2="196.00" stroke="#777" stroke-width="0.5"/>
<line x1="153.89" y1="195.10" x2="153.89" y2="196.00" stroke="#777" stroke-width="0.5"/>
<line x1="155.96" y1="195.10" x2="155.96" y2="196.00" stroke="#777" stroke-width="0.5"/>
<line x1="158.03" y1="195.10" x2="158.03" y2="196.00" stroke="#777" stroke-width="0.5"/>
<line x1="160.10" y1="195.10" x2="160.10" y2="196.70" stroke="#777" stroke-width="0.5"/>
<line x1="162.17" y1="195.10" x2="162.17" y2="196.00" stroke="#777" stroke-width="0.5"/>
<line x1="164.24" y1="195.10" x2="164.24" y2="196.00" stroke="#777" stroke-width="0.5"/>
<line x1="166.31" y1="195.10" x2="166.31" y2="196.00" stroke="#777" stroke-width="0.5"/>
<line x1="168.38" y1="195.10" x2="168.38" y2="196.00" stroke="#777" stroke-width="0.5"/>
<line x1="170.45" y1="195.10" x2="170.45" y2="196.00" stroke="#777" stroke-width="0.5"/>
<line x1="172.52" y1="195.10" x2="172.52" y2="196.00" stroke="#777" stroke-width="0.5"/>
<line x1="174.59" y1="195.10" x2="174.59" y2="196.00" stroke="#777" stroke-width="0.5"/>
<line x1="176.66" y1="195.10" x2="176.66" y2="196.00" stroke="#777" stroke-width="0.5"/>
<line x1="178.73" y1="195.10" x2="178.73" y2="196.00" stroke="#777" stroke-width="0.5"/>
<line x1="180.80" y1="195.10" x2="180.80" y2="196.70" stroke="#777" stroke-width="0.5"/>
<line x1="182.87" y1="195.10" x2="182.87" y2="196.00" stroke="#777" stroke-width="0.5"/>
<line x1="184.94" y1="195.10" x2="184.94" y2="196.00" stroke="#777" stroke-width="0.5"/>
<line x1="187.01" y1="195.10" x2="187.01" y2="196.00" stroke="#777" stroke-width="0.5"/>
<line x1="189.08" y1="195.10" x2="189.08" y2="196.00" stroke="#777" stroke-width="0.5"/>
<line x1="191.15" y1="195.10" x2="191.15" y2="196.00" stroke="#777" stroke-width="0.5"/>
<line x1="193.22" y1="195.10" x2="193.22" y2="196.00" stroke="#777" stroke-width="0.5"/>
<line x1="195.29" y1="195.10" x2="195.29" y2="196.00" stroke="#777" stroke-width="0.5"/>
<line x1="197.36" y1="195.10" x2="197.36" y2="196.00" stroke="#777" stroke-width="0.5"/>
<line x1="199.43" y1="195.10" x2="199.43" y2="196.00" stroke="#777" stroke-width="0.5"/>
<text x="125.20" y="127.80" font-size="8.4" text-anchor="start" textLength="12.9" lengthAdjust="spacingAndGlyphs" font-weight="bold">M&#934;</text>
<text x="145.10" y="146.80" font-size="6.0" text-anchor="start" font-weight="bold">CD11b</text>
<line x1="151.70" y1="150.60" x2="164.80" y2="160.70" stroke="#333" stroke-width="0.8"/>
<text transform="translate(10.50,121.30) rotate(-90)" font-size="12.3" text-anchor="middle" >Cell Number</text>
<text x="113.00" y="214.00" font-size="12.3" text-anchor="middle" >Fluorescence Intensity</text>
<rect x="258.60" y="155.00" width="21.30" height="21.40" fill="#000"/>
<rect x="268.30" y="152.50" width="1.90" height="3.00" fill="#000"/>
<rect x="264.25" y="151.70" width="10.00" height="1.60" fill="#000"/>
<rect x="297.60" y="154.80" width="21.10" height="21.60" fill="#000"/>
<rect x="307.20" y="153.40" width="1.90" height="1.90" fill="#000"/>
<rect x="303.15" y="152.60" width="10.00" height="1.60" fill="#000"/>
<rect x="336.50" y="159.80" width="21.00" height="16.60" fill="#000"/>
<rect x="346.05" y="156.80" width="1.90" height="3.50" fill="#000"/>
<rect x="342.00" y="156.00" width="10.00" height="1.60" fill="#000"/>
<rect x="375.40" y="99.40" width="20.70" height="77.00" fill="#000"/>
<rect x="384.80" y="93.40" width="1.90" height="6.50" fill="#000"/>
<rect x="380.75" y="92.60" width="10.00" height="1.60" fill="#000"/>
<rect x="414.50" y="160.00" width="20.60" height="16.40" fill="#000"/>
<rect x="423.85" y="156.50" width="1.90" height="4.00" fill="#000"/>
<rect x="419.80" y="155.70" width="10.00" height="1.60" fill="#000"/>
<polygon points="385.50,77.20 386.09,78.78 387.78,78.86 386.46,79.91 386.91,81.54 385.50,80.61 384.09,81.54 384.54,79.91 383.22,78.86 384.91,78.78" fill="#000"/>
<line x1="250.00" y1="38.17" x2="250.00" y2="177.12" stroke="#000" stroke-width="1.45"/>
<line x1="246.20" y1="176.40" x2="444.00" y2="176.40" stroke="#000" stroke-width="1.45"/>
<line x1="246.20" y1="38.90" x2="250.00" y2="38.90" stroke="#000" stroke-width="1.45"/>
<text x="243.20" y="45.10" font-size="14" text-anchor="end" >6</text>
<line x1="246.20" y1="85.10" x2="250.00" y2="85.10" stroke="#000" stroke-width="1.45"/>
<text x="243.20" y="89.40" font-size="14" text-anchor="end" >4</text>
<line x1="246.20" y1="130.40" x2="250.00" y2="130.40" stroke="#000" stroke-width="1.45"/>
<text x="243.20" y="134.40" font-size="14" text-anchor="end" >2</text>
<line x1="246.20" y1="176.40" x2="250.00" y2="176.40" stroke="#000" stroke-width="1.45"/>
<text x="243.20" y="179.60" font-size="14" text-anchor="end" >0</text>
<line x1="268.75" y1="176.40" x2="268.75" y2="180.20" stroke="#000" stroke-width="1.45"/>
<text transform="translate(274.45,189.30) rotate(-45)" font-size="12" text-anchor="end" >Med</text>
<line x1="307.65" y1="176.40" x2="307.65" y2="180.20" stroke="#000" stroke-width="1.45"/>
<text transform="translate(313.35,189.30) rotate(-45)" font-size="12" text-anchor="end" >LTF</text>
<line x1="346.50" y1="176.40" x2="346.50" y2="180.20" stroke="#000" stroke-width="1.45"/>
<text transform="translate(353.70,189.30) rotate(-45)" font-size="12" text-anchor="end" >LTF+IVIG</text>
<line x1="385.25" y1="176.40" x2="385.25" y2="180.20" stroke="#000" stroke-width="1.45"/>
<text transform="translate(391.45,189.30) rotate(-45)" font-size="12" text-anchor="end" >RA-IgG-IC</text>
<line x1="424.30" y1="176.40" x2="424.30" y2="180.20" stroke="#000" stroke-width="1.45"/>
<text transform="translate(431.70,189.60) rotate(-45)" font-size="12" text-anchor="end" >RA-IgG</text>
<text transform="translate(229.20,109.80) rotate(-90)" font-size="13.5" text-anchor="middle" >TNF-&#945; (ng/ml)</text>
<rect x="486.40" y="165.30" width="22.50" height="10.90" fill="#000"/>
<rect x="496.70" y="164.00" width="1.90" height="1.80" fill="#000"/>
<rect x="492.30" y="163.20" width="10.70" height="1.60" fill="#000"/>
<rect x="525.20" y="164.50" width="22.50" height="11.70" fill="#000"/>
<rect x="535.50" y="162.60" width="1.90" height="2.40" fill="#000"/>
<rect x="531.10" y="161.80" width="10.70" height="1.60" fill="#000"/>
<rect x="563.20" y="163.00" width="23.10" height="13.20" fill="#000"/>
<rect x="573.80" y="161.30" width="1.90" height="2.20" fill="#000"/>
<rect x="569.40" y="160.50" width="10.70" height="1.60" fill="#000"/>
<rect x="601.80" y="74.90" width="23.00" height="101.30" fill="#000"/>
<rect x="612.35" y="61.50" width="1.90" height="13.90" fill="#000"/>
<rect x="607.95" y="60.70" width="10.70" height="1.60" fill="#000"/>
<rect x="640.20" y="157.00" width="23.00" height="19.20" fill="#000"/>
<rect x="650.75" y="153.80" width="1.90" height="3.70" fill="#000"/>
<rect x="646.35" y="153.00" width="10.70" height="1.60" fill="#000"/>
<polygon points="611.80,51.30 612.34,52.75 613.89,52.82 612.68,53.79 613.09,55.28 611.80,54.42 610.51,55.28 610.92,53.79 609.71,52.82 611.26,52.75" fill="#000"/>
<polygon points="616.20,51.30 616.74,52.75 618.29,52.82 617.08,53.79 617.49,55.28 616.20,54.42 614.91,55.28 615.32,53.79 614.11,52.82 615.66,52.75" fill="#000"/>
<line x1="478.50" y1="37.48" x2="478.50" y2="176.92" stroke="#000" stroke-width="1.45"/>
<line x1="474.70" y1="176.20" x2="671.00" y2="176.20" stroke="#000" stroke-width="1.45"/>
<line x1="474.70" y1="38.20" x2="478.50" y2="38.20" stroke="#000" stroke-width="1.45"/>
<text x="473.10" y="44.40" font-size="14" text-anchor="end" >4</text>
<line x1="474.70" y1="72.70" x2="478.50" y2="72.70" stroke="#000" stroke-width="1.45"/>
<text x="473.10" y="81.00" font-size="14" text-anchor="end" >3</text>
<line x1="474.70" y1="107.20" x2="478.50" y2="107.20" stroke="#000" stroke-width="1.45"/>
<text x="473.10" y="116.60" font-size="14" text-anchor="end" >2</text>
<line x1="474.70" y1="141.60" x2="478.50" y2="141.60" stroke="#000" stroke-width="1.45"/>
<text x="473.10" y="151.30" font-size="14" text-anchor="end" >1</text>
<line x1="474.70" y1="176.20" x2="478.50" y2="176.20" stroke="#000" stroke-width="1.45"/>
<text x="473.10" y="186.90" font-size="14" text-anchor="end" >0</text>
<line x1="498.05" y1="176.20" x2="498.05" y2="180.00" stroke="#000" stroke-width="1.45"/>
<text transform="translate(496.85,191.70) rotate(-45)" font-size="12" text-anchor="end" >Med</text>
<line x1="536.85" y1="176.20" x2="536.85" y2="180.00" stroke="#000" stroke-width="1.45"/>
<text transform="translate(538.15,191.70) rotate(-45)" font-size="12" text-anchor="end" >LTF</text>
<line x1="575.15" y1="176.20" x2="575.15" y2="180.00" stroke="#000" stroke-width="1.45"/>
<text transform="translate(580.55,190.10) rotate(-45)" font-size="12" text-anchor="end" >LTF+IVIG</text>
<line x1="613.70" y1="176.20" x2="613.70" y2="180.00" stroke="#000" stroke-width="1.45"/>
<text transform="translate(618.70,190.60) rotate(-45)" font-size="12" text-anchor="end" >RA-IgG-IC</text>
<line x1="652.10" y1="176.20" x2="652.10" y2="180.00" stroke="#000" stroke-width="1.45"/>
<text transform="translate(662.20,190.30) rotate(-45)" font-size="12" text-anchor="end" >RA-IgG</text>
<text transform="translate(457.60,108.00) rotate(-90)" font-size="13.5" text-anchor="middle" >TNF-&#945; (ng/ml)</text>
<rect x="74.40" y="415.60" width="21.30" height="12.60" fill="#000"/>
<rect x="84.10" y="414.70" width="1.90" height="1.40" fill="#000"/>
<rect x="80.30" y="413.90" width="9.50" height="1.60" fill="#000"/>
<rect x="109.20" y="415.60" width="21.30" height="12.60" fill="#000"/>
<rect x="118.90" y="414.90" width="1.90" height="1.20" fill="#000"/>
<rect x="115.10" y="414.10" width="9.50" height="1.60" fill="#000"/>
<rect x="144.20" y="412.50" width="21.40" height="15.70" fill="#000"/>
<rect x="153.95" y="411.50" width="1.90" height="1.50" fill="#000"/>
<rect x="150.15" y="410.70" width="9.50" height="1.60" fill="#000"/>
<rect x="179.00" y="303.10" width="21.50" height="125.10" fill="#000"/>
<rect x="188.80" y="300.70" width="1.90" height="2.90" fill="#000"/>
<rect x="185.00" y="299.90" width="9.50" height="1.60" fill="#000"/>
<rect x="213.70" y="412.40" width="21.40" height="15.80" fill="#000"/>
<rect x="249.00" y="313.80" width="21.00" height="114.40" fill="#000"/>
<rect x="258.55" y="311.60" width="1.90" height="2.70" fill="#000"/>
<rect x="254.75" y="310.80" width="9.50" height="1.60" fill="#000"/>
<rect x="283.90" y="368.40" width="21.10" height="59.80" fill="#000"/>
<rect x="293.50" y="361.60" width="1.90" height="7.30" fill="#000"/>
<rect x="289.70" y="360.80" width="9.50" height="1.60" fill="#000"/>
<polygon points="188.50,287.60 189.04,289.05 190.59,289.12 189.38,290.09 189.79,291.58 188.50,290.72 187.21,291.58 187.62,290.09 186.41,289.12 187.96,289.05" fill="#000"/>
<polygon points="192.90,287.60 193.44,289.05 194.99,289.12 193.78,290.09 194.19,291.58 192.90,290.72 191.61,291.58 192.02,290.09 190.81,289.12 192.36,289.05" fill="#000"/>
<polygon points="257.50,298.80 258.04,300.25 259.59,300.32 258.38,301.29 258.79,302.78 257.50,301.92 256.21,302.78 256.62,301.29 255.41,300.32 256.96,300.25" fill="#000"/>
<polygon points="262.40,298.80 262.94,300.25 264.49,300.32 263.28,301.29 263.69,302.78 262.40,301.92 261.11,302.78 261.52,301.29 260.31,300.32 261.86,300.25" fill="#000"/>
<circle cx="292.3" cy="354.0" r="1.1" fill="#333"/>
<circle cx="296.9" cy="354.0" r="1.1" fill="#333"/>
<line x1="67.50" y1="288.17" x2="67.50" y2="428.93" stroke="#000" stroke-width="1.45"/>
<line x1="63.70" y1="428.20" x2="310.00" y2="428.20" stroke="#000" stroke-width="1.45"/>
<line x1="63.70" y1="288.90" x2="67.50" y2="288.90" stroke="#000" stroke-width="1.45"/>
<text x="61.20" y="294.70" font-size="14" text-anchor="end" >8</text>
<line x1="63.70" y1="323.72" x2="67.50" y2="323.72" stroke="#000" stroke-width="1.45"/>
<text x="61.20" y="329.25" font-size="14" text-anchor="end" >6</text>
<line x1="63.70" y1="358.55" x2="67.50" y2="358.55" stroke="#000" stroke-width="1.45"/>
<text x="61.20" y="363.80" font-size="14" text-anchor="end" >4</text>
<line x1="63.70" y1="393.38" x2="67.50" y2="393.38" stroke="#000" stroke-width="1.45"/>
<text x="61.20" y="398.35" font-size="14" text-anchor="end" >2</text>
<line x1="63.70" y1="428.20" x2="67.50" y2="428.20" stroke="#000" stroke-width="1.45"/>
<text x="61.20" y="432.90" font-size="14" text-anchor="end" >0</text>
<line x1="84.55" y1="428.20" x2="84.55" y2="432.00" stroke="#000" stroke-width="1.45"/>
<text transform="translate(89.25,439.90) rotate(-45)" font-size="12" text-anchor="end" >Med</text>
<line x1="119.35" y1="428.20" x2="119.35" y2="432.00" stroke="#000" stroke-width="1.45"/>
<text transform="translate(126.25,439.60) rotate(-45)" font-size="12" text-anchor="end" >LTF</text>
<line x1="154.40" y1="428.20" x2="154.40" y2="432.00" stroke="#000" stroke-width="1.45"/>
<text transform="translate(160.90,439.10) rotate(-45)" font-size="12" text-anchor="end" >M860</text>
<line x1="189.25" y1="428.20" x2="189.25" y2="432.00" stroke="#000" stroke-width="1.45"/>
<text transform="translate(196.45,439.30) rotate(-45)" font-size="12" text-anchor="end" >LTF+M860</text>
<line x1="223.90" y1="428.20" x2="223.90" y2="432.00" stroke="#000" stroke-width="1.45"/>
<text transform="translate(230.60,439.60) rotate(-45)" font-size="12" text-anchor="end" >L3262</text>
<line x1="259.00" y1="428.20" x2="259.00" y2="432.00" stroke="#000" stroke-width="1.45"/>
<text transform="translate(266.70,439.90) rotate(-45)" font-size="12" text-anchor="end" >LTF+L3262</text>
<line x1="293.95" y1="428.20" x2="293.95" y2="432.00" stroke="#000" stroke-width="1.45"/>
<text transform="translate(300.45,439.60) rotate(-45)" font-size="12" text-anchor="end" >LPS</text>
<text transform="translate(44.60,353.40) rotate(-90)" font-size="13.5" text-anchor="middle" >TNF-&#945; (ng/ml)</text>
<rect x="413.80" y="417.40" width="22.90" height="13.50" fill="#000"/>
<rect x="424.30" y="414.80" width="1.90" height="3.10" fill="#000"/>
<rect x="420.25" y="414.00" width="10.00" height="1.60" fill="#000"/>
<rect x="451.80" y="424.00" width="22.80" height="6.90" fill="#000"/>
<rect x="462.25" y="423.30" width="1.90" height="1.20" fill="#000"/>
<rect x="458.20" y="422.50" width="10.00" height="1.60" fill="#000"/>
<rect x="489.20" y="416.00" width="23.30" height="14.90" fill="#000"/>
<rect x="499.90" y="413.60" width="1.90" height="2.90" fill="#000"/>
<rect x="495.85" y="412.80" width="10.00" height="1.60" fill="#000"/>
<rect x="527.30" y="372.90" width="23.20" height="58.00" fill="#000"/>
<rect x="537.95" y="372.20" width="1.90" height="1.20" fill="#000"/>
<rect x="533.90" y="371.40" width="10.00" height="1.60" fill="#000"/>
<rect x="565.30" y="422.20" width="23.00" height="8.70" fill="#000"/>
<rect x="603.20" y="364.10" width="22.80" height="66.80" fill="#000"/>
<rect x="613.65" y="356.20" width="1.90" height="8.40" fill="#000"/>
<rect x="609.60" y="355.40" width="10.00" height="1.60" fill="#000"/>
<rect x="641.00" y="328.20" width="23.00" height="102.70" fill="#000"/>
<rect x="641.00" y="306.30" width="23.00" height="11.10" fill="#000"/>
<rect x="647.40" y="305.00" width="10.40" height="2.00" fill="#000"/>
<polygon points="535.30,357.70 535.87,359.22 537.49,359.29 536.22,360.30 536.65,361.86 535.30,360.97 533.95,361.86 534.38,360.30 533.11,359.29 534.73,359.22" fill="#000"/>
<polygon points="540.10,357.70 540.67,359.22 542.29,359.29 541.02,360.30 541.45,361.86 540.10,360.97 538.75,361.86 539.18,360.30 537.91,359.29 539.53,359.22" fill="#000"/>
<polygon points="612.60,343.50 613.12,344.89 614.60,344.95 613.44,345.87 613.83,347.30 612.60,346.48 611.37,347.30 611.76,345.87 610.60,344.95 612.08,344.89" fill="#000"/>
<polygon points="650.20,290.60 650.77,292.12 652.39,292.19 651.12,293.20 651.55,294.76 650.20,293.87 648.85,294.76 649.28,293.20 648.01,292.19 649.63,292.12" fill="#000"/>
<polygon points="655.10,290.60 655.67,292.12 657.29,292.19 656.02,293.20 656.45,294.76 655.10,293.87 653.75,294.76 654.18,293.20 652.91,292.19 654.53,292.12" fill="#000"/>
<line x1="406.80" y1="327.47" x2="406.80" y2="431.62" stroke="#000" stroke-width="1.45"/>
<line x1="406.80" y1="290.57" x2="406.80" y2="318.03" stroke="#000" stroke-width="1.45"/>
<line x1="402.10" y1="291.30" x2="406.80" y2="291.30" stroke="#000" stroke-width="1.45"/>
<line x1="402.60" y1="317.30" x2="410.00" y2="317.30" stroke="#000" stroke-width="1.45"/>
<line x1="402.10" y1="328.20" x2="410.00" y2="328.20" stroke="#000" stroke-width="1.45"/>
<line x1="402.10" y1="430.90" x2="672.00" y2="430.90" stroke="#000" stroke-width="1.45"/>
<line x1="402.10" y1="396.30" x2="406.80" y2="396.30" stroke="#000" stroke-width="1.45"/>
<text x="398.40" y="402.10" font-size="14" text-anchor="end" >2</text>
<line x1="402.10" y1="362.30" x2="406.80" y2="362.30" stroke="#000" stroke-width="1.45"/>
<text x="398.40" y="367.50" font-size="14" text-anchor="end" >4</text>
<text x="398.40" y="436.30" font-size="14" text-anchor="end" >0</text>
<text x="398.40" y="331.90" font-size="14" text-anchor="end" >6</text>
<text x="398.50" y="296.90" font-size="14" text-anchor="end" textLength="12.6" lengthAdjust="spacingAndGlyphs">40</text>
<line x1="424.75" y1="430.90" x2="424.75" y2="434.70" stroke="#000" stroke-width="1.45"/>
<text transform="translate(428.45,442.30) rotate(-45)" font-size="12" text-anchor="end" >Med</text>
<line x1="462.70" y1="430.90" x2="462.70" y2="434.70" stroke="#000" stroke-width="1.45"/>
<text transform="translate(469.20,442.60) rotate(-45)" font-size="12" text-anchor="end" >LTF</text>
<line x1="500.35" y1="430.90" x2="500.35" y2="434.70" stroke="#000" stroke-width="1.45"/>
<text transform="translate(510.05,442.70) rotate(-45)" font-size="12" text-anchor="end" >M860</text>
<line x1="538.40" y1="430.90" x2="538.40" y2="434.70" stroke="#000" stroke-width="1.45"/>
<text transform="translate(545.50,443.40) rotate(-45)" font-size="12" text-anchor="end" >LTF+M860</text>
<line x1="576.30" y1="430.90" x2="576.30" y2="434.70" stroke="#000" stroke-width="1.45"/>
<text transform="translate(579.70,442.90) rotate(-45)" font-size="12" text-anchor="end" >L3262</text>
<line x1="614.10" y1="430.90" x2="614.10" y2="434.70" stroke="#000" stroke-width="1.45"/>
<text transform="translate(620.30,443.30) rotate(-45)" font-size="12" text-anchor="end" >LTF+L3262</text>
<line x1="652.00" y1="430.90" x2="652.00" y2="434.70" stroke="#000" stroke-width="1.45"/>
<text transform="translate(660.00,443.60) rotate(-45)" font-size="12" text-anchor="end" >LPS</text>
<text transform="translate(380.30,359.40) rotate(-90)" font-size="13.5" text-anchor="middle" >TNF-&#945; (ng/ml)</text>
</svg>
</body></html>
